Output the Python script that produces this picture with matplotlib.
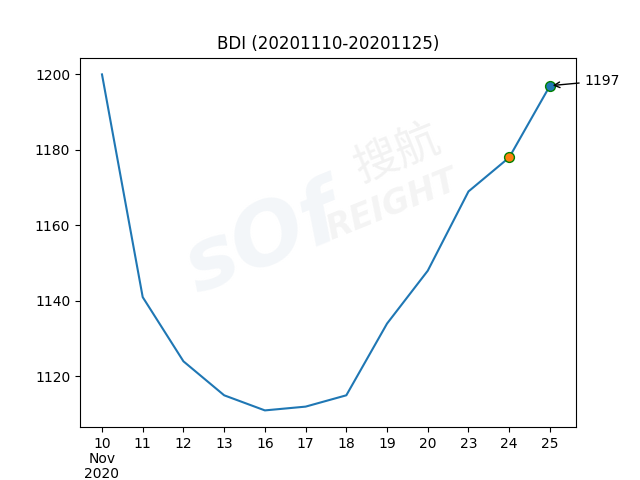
import matplotlib
matplotlib.use("Agg")
import matplotlib.pyplot as plt

plt.rcParams['font.family'] = ['DejaVu Sans', 'Noto Sans CJK SC']

dates = ["10\nNov\n2020", "11", "12", "13", "16", "17", "18", "19", "20", "23", "24", "25"]
values = [1200, 1141, 1124, 1115, 1111, 1112, 1115, 1134, 1148, 1169, 1178, 1197]

fig, ax = plt.subplots(figsize=(6.4, 4.8), dpi=100)
x = list(range(len(values)))

# watermark
ax.text(0.37, 0.50, "sOf", transform=ax.transAxes, fontsize=62, fontweight='bold',
        fontstyle='italic', color='#f3f6f9', rotation=22, ha='center', va='center', zorder=0)
ax.text(0.64, 0.74, "搜航", transform=ax.transAxes, fontsize=32, family=['Noto Sans CJK SC'],
        color='#f2f2f2', rotation=22, ha='center', va='center', zorder=0)
ax.text(0.63, 0.6, "REIGHT", transform=ax.transAxes, fontsize=24, fontweight='bold',
        fontstyle='italic', color='#f4f4f4', rotation=22, ha='center', va='center', zorder=0)

ax.plot(x, values, color='tab:blue', zorder=2)
ax.scatter([x[-2]], [values[-2]], s=50, color='tab:orange', edgecolors='green', zorder=3)
ax.scatter([x[-1]], [values[-1]], s=50, color='tab:blue', edgecolors='green', zorder=3)
ax.annotate(str(values[-1]), xy=(x[-1], values[-1]), xytext=(25, 3.5),
            textcoords='offset points', ha='left', va='center',
            arrowprops=dict(arrowstyle='->', color='black'))

ax.set_xticks(x)
ax.set_xticklabels(dates, linespacing=1.1)
ax.set_xlim(-0.54, 11.64)
ax.set_title("BDI (20201110-20201125)")

fig.savefig("out.png", dpi=100)
